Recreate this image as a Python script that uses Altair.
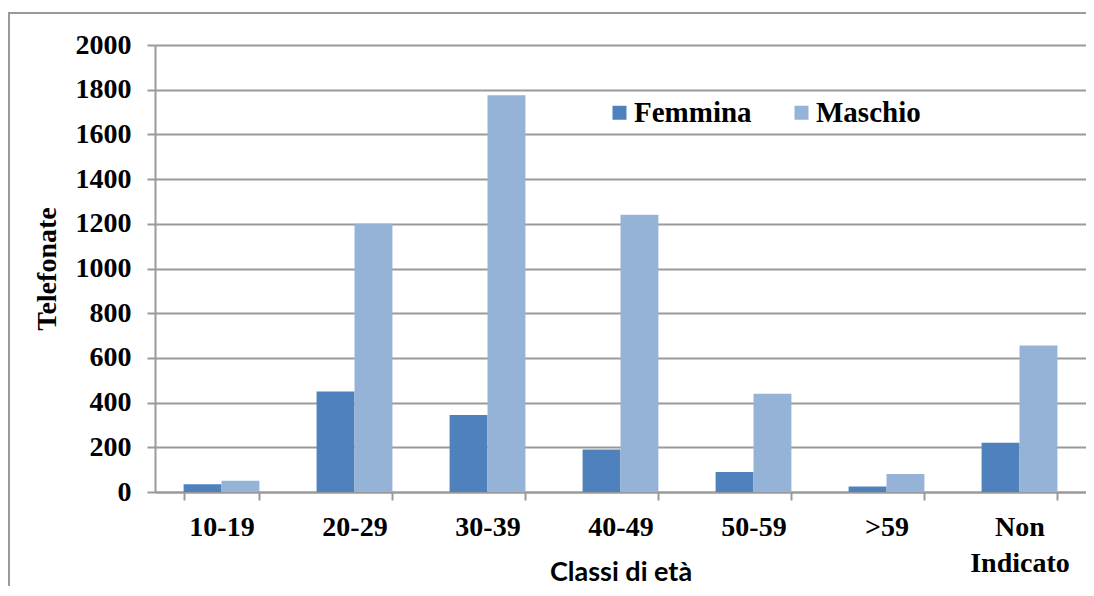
import altair as alt
import pandas as pd

categorie = ["10-19", "20-29", "30-39", "40-49", "50-59", ">59", "Non Indicato"]
femmina = [35, 450, 345, 190, 90, 25, 220]
maschio = [50, 1200, 1775, 1240, 440, 80, 655]
serie = ["Femmina", "Maschio"]
y_ticks = list(range(0, 2001, 200))

rows = []
for c, f, m in zip(categorie, femmina, maschio):
    rows.append({"Classe": c, "Sesso": "Femmina", "Telefonate": f})
    rows.append({"Classe": c, "Sesso": "Maschio", "Telefonate": m})
df = pd.DataFrame(rows)

GRAY = "#9A9A9A"
SERIF = "Liberation Serif"

bars = alt.Chart(df).mark_bar().encode(
    x=alt.X(
        "Classe:N",
        sort=categorie,
        scale=alt.Scale(paddingInner=0.43, paddingOuter=0.215),
        axis=alt.Axis(
            title="Classi di età",
            labelExpr="split(datum.label, ' ')",
            labelAngle=0,
            labelFont=SERIF,
            labelFontSize=28,
            labelFontWeight="bold",
            labelColor="black",
            labelPadding=13,
            labelLineHeight=36,
            tickBand="extent",
            tickSize=8,
            tickColor=GRAY,
            tickWidth=2,
            domainColor=GRAY,
            domainWidth=2,
            grid=False,
            titleFont="Lato",
            titleFontSize=27,
            titleFontWeight="bold",
            titleColor="black",
            titleY=88,
            titleBaseline="alphabetic",
        ),
    ),
    xOffset=alt.XOffset("Sesso:N", sort=serie, scale=alt.Scale(paddingInner=0, paddingOuter=0)),
    y=alt.Y(
        "Telefonate:Q",
        scale=alt.Scale(domain=[0, 2000], nice=False),
        axis=alt.Axis(
            title="Telefonate",
            values=y_ticks,
            format="d",
            labelFont=SERIF,
            labelFontSize=28,
            labelFontWeight="bold",
            labelColor="black",
            labelPadding=16,
            tickSize=8,
            tickColor=GRAY,
            tickWidth=2,
            domainColor=GRAY,
            domainWidth=2,
            gridColor=GRAY,
            gridWidth=2,
            titleFont=SERIF,
            titleFontSize=28,
            titleFontWeight="bold",
            titleColor="black",
            titlePadding=14,
        ),
    ),
    color=alt.Color(
        "Sesso:N",
        sort=serie,
        scale=alt.Scale(domain=serie, range=["#4F81BD", "#95B3D7"]),
        legend=alt.Legend(
            title=None,
            orient="none",
            legendX=450,
            legendY=53,
            direction="horizontal",
            labelFont=SERIF,
            labelFontSize=29,
            labelFontWeight="bold",
            labelColor="black",
            symbolType="square",
            symbolSize=196,
            symbolStrokeWidth=0,
            labelOffset=0,
            columnPadding=35,
            padding=0,
        ),
    ),
)

frame = alt.Chart(pd.DataFrame({"k": [0]})).mark_rect(
    fill="transparent", stroke=GRAY, strokeWidth=2
).encode(
    x=alt.value(-146), x2=alt.value(960), y=alt.value(-32), y2=alt.value(620)
)

chart = alt.layer(frame, bars).properties(
    width=931,
    height=447,
    autosize=alt.AutoSizeParams(type="none"),
    padding={"left": 147, "top": 37, "right": 0, "bottom": 94},
    background="white",
).configure_view(stroke=None)

chart.save("out.html", embed_options={"renderer": "svg", "actions": False})
